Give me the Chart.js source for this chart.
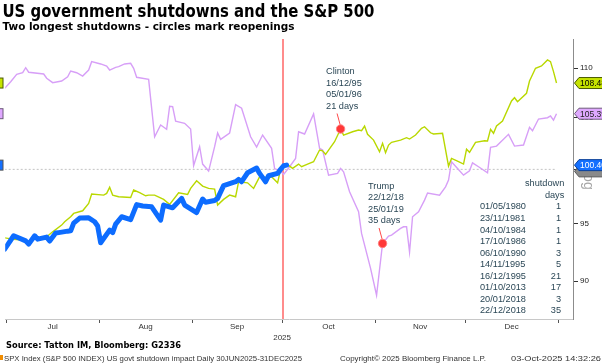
<!DOCTYPE html>
<html><head><meta charset="utf-8">
<script src="https://cdn.jsdelivr.net/npm/chart.js@4.4.1/dist/chart.umd.min.js"></script>
<style>html,body{margin:0;padding:0;background:#fff;}#wrap{position:relative;width:602px;height:363px;}canvas{display:block;}</style>
</head><body><div id="wrap"><canvas id="c" width="602" height="363"></canvas></div>
<script>
// ---------- data (x = calendar days after 30 Jun 2025, y = index, shutdown start = 100) ----------
const spxDays = [0,3,7,8,10,11,14,15,17,18,21,22,23,25,28,30,31,32,35,36,37,39,42,44,46,49,52,53,56,59,60,64,66,67,70,71,73,77,78,79,81,84,85,87,88,91,92,93,94];
const spxValues = [92.76,93.93,93.48,93.19,93.93,93.63,93.81,93.46,94.17,94.21,94.34,94.37,95.06,95.51,95.53,95.18,94.8,93.31,94.43,94.21,94.97,95.63,95.37,96.73,96.6,96.53,95.33,96.69,96.44,97.3,96.69,96.01,97.24,96.95,97.1,97.3,98.48,98.84,99.06,98.84,99.68,100.12,99.62,98.84,99.4,99.62,100,100.34,100.4];

const clintonDays = [0,3,6,7,8,9,12,14,16,19,20,22,23,26,28,29,33,34,35,36,38,42,43,45,47,48,50,53,55,58,61,62,64,66,68,70,71,73,75,77,78,81,83,85,87,89,91,92,94,95,96,98,99,101,103,105,106,107,110,112,113,116,118,119,120,121,123,125,126,127,128,129,132,134,135,137,139,140,142,143,146,148,149,151,153,154,155,157,160,161,162,163,164,166,169,170,171,174,175,177,179,181,182,183,184];
const clintonValues = [93.75,93.61,93.55,93.40,93.31,93.75,93.61,93.84,94.28,94.88,95.18,95.63,95.93,96.17,96.84,97.70,97.60,97.76,98.32,97.60,97.45,97.39,98.07,97.82,97.54,97.60,97.60,97.21,96.75,97.82,97.67,98.22,98.93,98.44,98.22,98.16,96.69,97.21,97.60,97.45,98.84,98.74,98.22,99.30,99.25,99.30,98.74,100,100.5,100.31,100.09,100.5,100.25,100.5,100.72,101.84,101.77,101.43,102.64,103.88,103.29,103.61,103.78,103.71,104.17,103.36,102.80,101.67,102.48,101.58,102.32,102.58,102.80,103.03,102.90,103.29,103.95,104.10,103.51,103.39,103.46,100.31,101.04,100.79,100.50,101.91,101.62,102.58,102.74,102.71,103.85,103.46,104.17,104.66,106.66,106.99,106.59,107.44,108.69,110.00,110.24,110.87,110.69,109.65,108.48];

const trumpDays = [0,2,4,6,7,8,13,14,16,19,21,22,24,26,28,29,32,34,35,37,38,40,42,43,44,48,50,52,54,55,56,57,60,62,63,65,66,68,70,71,72,75,77,79,82,84,86,89,90,92,93,95,97,98,100,103,105,106,108,111,112,113,115,118,119,122,124,126,128,129,132,133,134,135,136,138,140,141,145,147,148,149,151,153,155,156,158,161,162,164,168,170,173,175,176,178,181,182,183,184];
const trumpValues = [107.94,108.62,109.38,109.54,110.06,109.59,109.41,108.97,108.52,108.69,109.13,109.72,109.54,109.20,109.82,110.69,110.45,110.24,109.82,110.10,110.17,110.45,110.52,110.00,109.07,108.86,103.12,104.27,103.85,106.13,106.09,104.66,104.44,103.88,100.36,102.16,100.50,99.84,102.16,103.49,102.87,103.49,106.29,105.93,103.12,102.13,103.29,102.00,100.08,99.81,99.53,100.25,101.04,103.61,103.39,105.36,102.00,101.84,99.46,99.62,100.09,99.77,97.91,96.08,94.14,91.08,88.81,93.25,93.90,93.99,94.58,94.73,94.73,92.49,95.63,96.08,97.14,97.79,97.60,98.37,98.99,100.72,100.09,99.46,99.87,100.62,100.25,99.68,102.10,102.22,103.36,102.22,102.32,104.04,103.71,104.86,104.99,105.16,104.76,105.39];

const reopenDays = [112, 126];
const reopenValues = [103.88, 93.25];
const reopenLabels = [['Clinton','16/12/95','05/01/96','21 days'], ['Trump','22/12/18','25/01/19','35 days']];

const shutdownDates = ['01/05/1980','23/11/1981','04/10/1984','17/10/1986','06/10/1990','14/11/1995','16/12/1995','01/10/2013','20/01/2018','22/12/2018'];
const shutdownLengths = [1,1,1,1,3,5,21,17,3,35];
const tableHeader = ['shutdown','days'];

const monthLabels = ['Jul','Aug','Sep','Oct','Nov','Dec'];
const monthStarts = [0.5,31.5,62.5,92.5,123.5,153.5,184.5];
const yearLabel = '2025';
const yTicks = [90,95,100,105,110];
const shutdownStartDay = 92.8;
const baseValue = 100;

const titleText = 'US government shutdowns and the S&P 500';
const subtitleText = 'Two longest shutdowns - circles mark reopenings';
const sourceText = 'Source: Tatton IM, Bloomberg: G2336';
const footerLeft = 'SPX Index (S&P 500 INDEX) US govt shutdown impact Daily 30JUN2025-31DEC2025';
const footerMid = 'Copyright\u00A9 2025 Bloomberg Finance L.P.';
const footerRight = '03-Oct-2025 14:32:26';
const axisNote = 'Log';

// ---------- helpers ----------
const xMin = 0.17, xMax = 189.5, yMin = 86.84, yMax = 113.08;
const toPts = (d, v) => d.map((x, i) => ({x: x, y: v[i]}));
const midMonths = monthLabels.map((m, i) => (monthStarts[i] + monthStarts[i + 1]) / 2);
const xTickValues = monthStarts.concat(midMonths).sort((a, b) => a - b);
const isBoundary = v => monthStarts.indexOf(v) >= 0;
function xLabel(v) {
  const mi = midMonths.indexOf(v);
  if (mi >= 0) return monthLabels[mi];
  if (v === monthStarts[3]) return ['', yearLabel];
  return '';
}
function txt(ctx, s, x, y, o) {
  ctx.save();
  ctx.font = o.font; ctx.fillStyle = o.color || '#000';
  ctx.textAlign = o.align || 'left'; ctx.textBaseline = 'alphabetic';
  ctx.translate(x, y);
  if (o.width) { ctx.scale(o.width / ctx.measureText(s).width, 1); }
  else if (o.sx) { ctx.scale(o.sx, 1); }
  ctx.fillText(s, 0, 0);
  ctx.restore();
}
const ANN_FONT = '9.2px "Liberation Sans"';
const ANN_COL = '#2b4756';

function tag(ctx, y, label, bg, fg, border) {
  const x0 = 574.5, h = 11;
  ctx.save();
  ctx.beginPath();
  ctx.moveTo(x0, y); ctx.lineTo(x0 + 4.5, y - h / 2); ctx.lineTo(606, y - h / 2);
  ctx.lineTo(606, y + h / 2); ctx.lineTo(x0 + 4.5, y + h / 2); ctx.closePath();
  ctx.fillStyle = bg; ctx.fill(); ctx.strokeStyle = border; ctx.lineWidth = 1; ctx.stroke();
  ctx.restore();
  txt(ctx, label, 580, y + 3.2, {font: '8.5px "Liberation Sans"', color: fg});
}
function sliver(ctx, y, bg, border) {
  ctx.save(); ctx.fillStyle = bg; ctx.strokeStyle = border; ctx.lineWidth = 1;
  ctx.fillRect(-2, y - 5, 5, 10); ctx.strokeRect(-2, y - 5, 5, 10); ctx.restore();
}

const overlay = {
  id: 'overlay',
  afterDatasetsDraw(chart) {
    const ctx = chart.ctx, xs = chart.scales.x, ys = chart.scales.y;
    reopenDays.forEach((d, i) => {
      const cx = xs.getPixelForValue(d), cy = ys.getPixelForValue(reopenValues[i]);
      ctx.save(); ctx.strokeStyle = '#ff4a4a'; ctx.lineWidth = 1;
      ctx.beginPath(); ctx.moveTo(cx - 3.5, cy - 15.5); ctx.lineTo(cx - 0.5, cy - 4.5); ctx.stroke(); ctx.restore();
      reopenLabels[i].forEach((line, j) => txt(ctx, line, cx - 14.5, cy - 54.5 + j * 11.5, {font: ANN_FONT, color: ANN_COL}));
    });
  },
  afterDraw(chart) {
    const ctx = chart.ctx, ys = chart.scales.y;
    // titles
    ctx.save(); ctx.font = 'bold 17px "DejaVu Sans"';
    const k = 301 / ctx.measureText('US government shutdowns and the ').width; ctx.restore();
    txt(ctx, titleText, 2.5, 17.3, {font: 'bold 17px "DejaVu Sans"', sx: k});
    txt(ctx, subtitleText, 2.5, 29.5, {font: 'bold 10px "DejaVu Sans"', width: 292});
    // table
    const rowH = 11.55, top = 186.3;
    txt(ctx, tableHeader[0], 564.3, top, {font: ANN_FONT, color: ANN_COL, align: 'right'});
    txt(ctx, tableHeader[1], 564.3, top + rowH, {font: ANN_FONT, color: ANN_COL, align: 'right'});
    shutdownDates.forEach((d, i) => {
      const y = top + rowH * (i + 2);
      txt(ctx, d, 480, y, {font: ANN_FONT, color: ANN_COL});
      txt(ctx, String(shutdownLengths[i]), 561, y, {font: ANN_FONT, color: ANN_COL, align: 'right'});
    });
    // footer
    txt(ctx, sourceText, 6, 348.3, {font: 'bold 8px "DejaVu Sans"', width: 175});
    ctx.save(); ctx.fillStyle = '#f08c00'; ctx.fillRect(0, 355, 3, 5); ctx.restore();
    txt(ctx, footerLeft, 4, 360.5, {font: '7px "Liberation Sans"', color: '#333', width: 298});
    txt(ctx, footerMid, 340, 360.5, {font: '7px "Liberation Sans"', color: '#333', width: 146});
    txt(ctx, footerRight, 511, 360.5, {font: '7px "Liberation Sans"', color: '#333', width: 90});
    // axis note
    ctx.save(); ctx.translate(583.5, 178); ctx.rotate(Math.PI / 2);
    ctx.font = '14px "Liberation Sans"'; ctx.fillStyle = '#a6a6a6'; ctx.textAlign = 'center'; ctx.textBaseline = 'alphabetic';
    ctx.fillText(axisNote, 0, 0); ctx.restore();
    // last-value tags
    const gLast = clintonValues[clintonValues.length - 1], pLast = trumpValues[trumpValues.length - 1], bLast = spxValues[spxValues.length - 1];
    tag(ctx, ys.getPixelForValue(gLast), gLast.toFixed(2), '#c6e300', '#000', '#4a5a00');
    tag(ctx, ys.getPixelForValue(pLast), pLast.toFixed(2), '#dfa8ff', '#222', '#6d5a7a');
    tag(ctx, ys.getPixelForValue(baseValue) + 2, baseValue.toFixed(2), '#8a8a8a', '#8a8a8a', '#555');
    tag(ctx, ys.getPixelForValue(bLast), bLast.toFixed(2), '#1470ff', '#fff', '#0a3f99');
    sliver(ctx, ys.getPixelForValue(gLast), '#c6e300', '#4a5a00');
    sliver(ctx, ys.getPixelForValue(pLast), '#dfa8ff', '#6d5a7a');
    sliver(ctx, ys.getPixelForValue(bLast), '#1470ff', '#555');
  }
};

new Chart(document.getElementById('c'), {
  type: 'line',
  data: {
    datasets: [
      {label: 'reopenings', type: 'scatter', data: toPts(reopenDays, reopenValues), pointRadius: 4.2, pointBackgroundColor: '#ff3838', pointBorderColor: '#ff8080', pointBorderWidth: 1, showLine: false, order: 0},
      {label: 'S&P 500 2025', data: toPts(spxDays, spxValues), borderColor: '#0d6cff', borderWidth: 5, pointRadius: 0, borderJoinStyle: 'round', borderCapStyle: 'round', order: 1},
      {label: '1995-96', data: toPts(clintonDays, clintonValues), borderColor: '#b9d800', borderWidth: 1.4, pointRadius: 0, order: 2},
      {label: '2018-19', data: toPts(trumpDays, trumpValues), borderColor: '#d79ff7', borderWidth: 1.4, pointRadius: 0, order: 3},
      {label: 'shutdown start', data: [{x: shutdownStartDay, y: yMin}, {x: shutdownStartDay, y: yMax}], borderColor: '#ff8c8c', borderWidth: 2, pointRadius: 0, order: 4},
      {label: 'base', data: [{x: spxDays[0], y: baseValue}, {x: clintonDays[clintonDays.length - 1], y: baseValue}], borderColor: '#c4c4c4', borderWidth: 1, borderDash: [2, 2], pointRadius: 0, order: 5}
    ]
  },
  options: {
    responsive: false, animation: false, devicePixelRatio: 1,
    layout: {padding: {left: 2, top: 39, right: 0, bottom: 0}},
    plugins: {legend: {display: false}, tooltip: {enabled: false}, title: {display: false}},
    elements: {line: {tension: 0}},
    scales: {
      x: {
        type: 'linear', position: 'bottom', min: xMin, max: xMax,
        afterBuildTicks: s => { s.ticks = xTickValues.map(v => ({value: v})); },
        afterFit: s => { s.height = 44; },
        grid: {drawOnChartArea: false, drawTicks: true, tickLength: 4, tickWidth: 1,
               tickColor: c => (c.tick && isBoundary(c.tick.value)) ? '#555' : 'rgba(0,0,0,0)'},
        border: {display: true, color: '#c8c8c8'},
        ticks: {autoSkip: false, maxRotation: 0, minRotation: 0, padding: -1, color: '#333',
                font: {family: '"Liberation Sans"', size: 8, lineHeight: 1.3}, callback: v => xLabel(v)}
      },
      y: {
        type: 'logarithmic', position: 'right', min: yMin, max: yMax,
        afterBuildTicks: s => { s.ticks = yTicks.map(v => ({value: v})); },
        afterFit: s => { s.width = 29; },
        grid: {drawOnChartArea: false, drawTicks: true, tickLength: 5, tickColor: '#333'},
        border: {display: true, color: '#8c8c8c'},
        ticks: {autoSkip: false, padding: 2, color: '#222', font: {family: '"Liberation Sans"', size: 8}, callback: v => String(v)}
      }
    }
  },
  plugins: [overlay]
});
</script>
</body></html>
